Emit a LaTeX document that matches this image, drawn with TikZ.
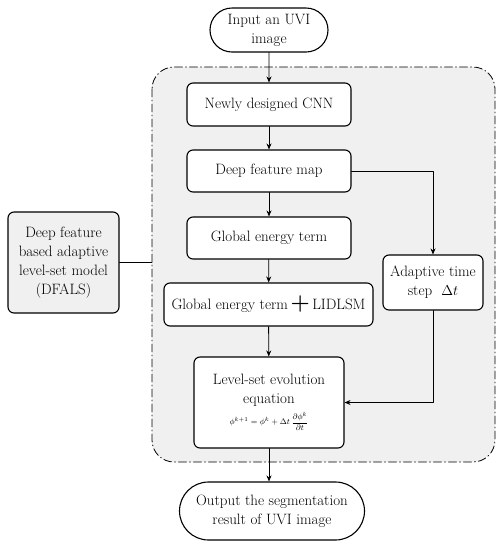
\documentclass[tikz,border=0pt]{standalone}
\usepackage{amsmath,amssymb}
\usepackage{tikz}
\usetikzlibrary{arrows.meta,calc,positioning,shapes.misc}
\definecolor{panelgray}{RGB}{240,240,240}

\begin{document}
\begin{tikzpicture}[x=1pt,y=-1pt,>={Stealth[length=6pt,width=5pt]},line cap=round,line join=round,
  stepbox/.style={draw,line width=1.1pt,rounded corners=6pt,fill=white,align=center,
   font=\fontsize{15}{19}\selectfont,inner sep=2pt},
  endbox/.style={draw,line width=1.1pt,rounded rectangle,fill=white,align=center,
   font=\fontsize{15}{19}\selectfont,inner sep=2pt},
  link/.style={line width=.8pt,black}]
 \useasboundingbox (0,0) rectangle (504,550);
 % dash-dot panel
 \draw[fill=panelgray,line width=.8pt,dash pattern=on 8pt off 3pt on 1pt off 3pt,
   rounded corners=22pt] (152,67) rectangle (495,462);
 % nodes
 \node[endbox,minimum width=122pt,minimum height=44pt] (input)
  at (269,30) {Input an UVI\\image};
 \node[stepbox,minimum width=164pt,minimum height=43pt] (cnn)
  at (269,104.5) {Newly designed CNN};
 \node[stepbox,minimum width=164pt,minimum height=42pt] (featmap)
  at (269,171) {Deep feature map};
 \node[stepbox,minimum width=164pt,minimum height=42pt] (globen)
  at (269,238) {Global energy term};
 \node[stepbox,minimum width=209pt,minimum height=43pt] (globlid)
  at (268.5,304.5) {Global energy term\,{\fontsize{22}{22}\selectfont\textbf{+}}\,LIDLSM};
 \node[stepbox,minimum width=100pt,minimum height=55pt] (adapt)
  at (433,282.5) {Adaptive time\\step\ \ $\Delta t$};
 \node[stepbox,minimum width=150pt,minimum height=91pt] (levelset)
  at (269,402.5) {Level-set evolution\\equation\\[2pt]
  {\fontsize{8}{9}\selectfont$\phi^{k+1}=\phi^{k}+\Delta t\,\dfrac{\partial\phi^{k}}{\partial t}$}};
 \node[endbox,minimum width=189pt,minimum height=58pt] (output)
  at (272,511) {Output the segmentation\\result of UVI image};
 \node[stepbox,fill=panelgray,minimum width=111pt,minimum height=101pt] (dfals)
  at (63.5,262.5) {Deep feature\\based adaptive\\level-set model\\(DFALS)};
 \coordinate (panelw) at (152,262.5);
 % connectors
 \draw[link,->] (input) -- (cnn);
 \draw[link,->] (cnn) -- (featmap);
 \draw[link,->] (featmap) -- (globen);
 \draw[link,->] (globen) -- (globlid);
 \draw[link,->] (globlid) -- (levelset);
 \draw[link,->] (levelset) -- (output.north -| levelset);
 \draw[link,->] (featmap.east) -| (adapt.north);
 \draw[link,->] (adapt.south) |- (levelset.east);
 \draw[link] (dfals.east) -- (panelw);
\end{tikzpicture}
\end{document}
